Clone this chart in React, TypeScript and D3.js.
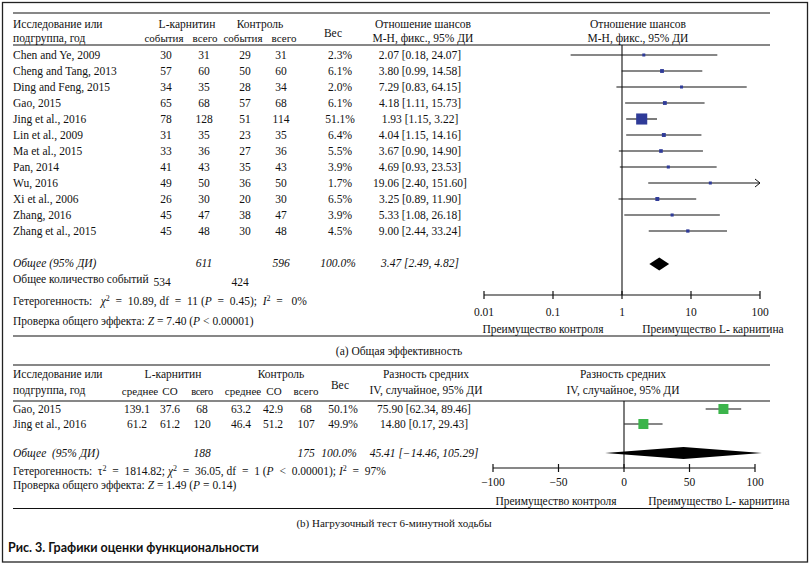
import React from "react";
import * as d3 from "d3";

// ---------- Data: (a) overall efficacy ----------
const studies = ["Chen and Ye, 2009", "Cheng and Tang, 2013", "Ding and Feng, 2015", "Gao, 2015", "Jing et al., 2016", "Lin et al., 2009", "Ma et al., 2015", "Pan, 2014", "Wu, 2016", "Xi et al., 2006", "Zhang, 2016", "Zhang et al., 2015"];
const lcEvents = [30, 57, 34, 65, 78, 31, 33, 41, 49, 26, 45, 45];
const lcTotal = [31, 60, 35, 68, 128, 35, 36, 43, 50, 30, 47, 48];
const ctEvents = [29, 50, 28, 57, 51, 23, 27, 35, 36, 20, 38, 30];
const ctTotal = [31, 60, 34, 68, 114, 35, 36, 43, 50, 30, 47, 48];
const weights = [2.3, 6.1, 2.0, 6.1, 51.1, 6.4, 5.5, 3.9, 1.7, 6.5, 3.9, 4.5];
const oddsRatio = [2.07, 3.80, 7.29, 4.18, 1.93, 4.04, 3.67, 4.69, 19.06, 3.25, 5.33, 9.00];
const orLow = [0.18, 0.99, 0.83, 1.11, 1.15, 1.15, 0.90, 0.93, 2.40, 0.89, 1.08, 2.44];
const orHigh = [24.07, 14.58, 64.15, 15.73, 3.22, 14.16, 14.90, 23.53, 151.60, 11.90, 26.18, 33.24];
const totalA = { lc: 611, ct: 596, weight: "100.0%", or: 3.47, lo: 2.49, hi: 4.82, lcEv: 534, ctEv: 424 };
const ticksA = [0.01, 0.1, 1, 10, 100];
const tickLabelsA = ["0.01", "0.1", "1", "10", "100"];

// ---------- Data: (b) 6-minute walk test ----------
const bStudies = ["Gao, 2015", "Jing et al., 2016"];
const bLcMean = [139.1, 61.2];
const bLcSd = [37.6, 61.2];
const bLcN = [68, 120];
const bCtMean = [63.2, 46.4];
const bCtSd = [42.9, 51.2];
const bCtN = [68, 107];
const bWeight = [50.1, 49.9];
const bMd = [75.90, 14.80];
const bLo = [62.34, 0.17];
const bHi = [89.46, 29.43];
const totalB = { lc: 188, ct: 175, weight: "100.0%", md: 45.41, lo: -14.46, hi: 105.29 };
const ticksB = [-100, -50, 0, 50, 100];
const tickLabelsB = ["\u2212100", "\u221250", "0", "50", "100"];

const SERIF = "'Liberation Serif', 'Times New Roman', serif";
const fmt = (v: number) => (v < 0 ? "\u2212" + Math.abs(v).toFixed(2) : v.toFixed(2));

export default function App() {
  const xA = d3.scaleLog().domain([0.01, 100]).range([484, 760]);
  const xB = d3.scaleLinear().domain([-100, 100]).range([493, 755]);
  const rowY = (i: number) => 55 + i * 16;
  const bRowY = (i: number) => 409 + i * 15;
  const sq = (w: number) => Math.max(3, 1.55 * Math.sqrt(w));
  const fs = 11.5;
  const T = (props: any) => <text fontFamily={SERIF} fontSize={fs} fill="#111" style={{ whiteSpace: "pre" }} {...props} />;

  return (
    <svg width={810} height={564} style={{ position: "absolute", left: 0, top: 0, background: "#fff" }}>
      <rect x={2.5} y={2.5} width={805} height={559.5} fill="#fff" stroke="#222" strokeWidth={1.3} />

      {/* ===== (a) ===== */}
      <line x1={13} x2={770} y1={13} y2={13} stroke="#111" strokeWidth={1.2} />
      <line x1={13} x2={770} y1={45} y2={45} stroke="#111" strokeWidth={1.2} />
      <T x={13} y={28}>Исследование или</T>
      <T x={13} y={42}>подгруппа, год</T>
      <T x={187} y={28} textAnchor="middle">L-карнитин</T>
      <T x={260} y={28} textAnchor="middle">Контроль</T>
      <T x={164} y={42} textAnchor="middle" fontSize={11}>события</T>
      <T x={205} y={42} textAnchor="middle" fontSize={11}>всего</T>
      <T x={243} y={42} textAnchor="middle" fontSize={11}>события</T>
      <T x={284} y={42} textAnchor="middle" fontSize={11}>всего</T>
      <T x={333} y={37} textAnchor="middle">Вес</T>
      <T x={423} y={28} textAnchor="middle">Отношение шансов</T>
      <T x={423} y={42} textAnchor="middle">М-Н, фикс., 95% ДИ</T>
      <T x={638} y={28} textAnchor="middle">Отношение шансов</T>
      <T x={638} y={42} textAnchor="middle">М-Н, фикс., 95% ДИ</T>

      {studies.map((s, i) => (
        <g key={s}>
          <T x={13} y={rowY(i) + 4}>{s}</T>
          <T x={166} y={rowY(i) + 4} textAnchor="middle">{lcEvents[i]}</T>
          <T x={204} y={rowY(i) + 4} textAnchor="middle">{lcTotal[i]}</T>
          <T x={245} y={rowY(i) + 4} textAnchor="middle">{ctEvents[i]}</T>
          <T x={281} y={rowY(i) + 4} textAnchor="middle">{ctTotal[i]}</T>
          <T x={340} y={rowY(i) + 4} textAnchor="middle">{weights[i].toFixed(1)}%</T>
          <T x={420} y={rowY(i) + 4} textAnchor="middle">{`${oddsRatio[i].toFixed(2)} [${orLow[i].toFixed(2)}, ${orHigh[i].toFixed(2)}]`}</T>
          <line x1={xA(Math.max(orLow[i], 0.01))} x2={xA(Math.min(orHigh[i], 100))} y1={rowY(i)} y2={rowY(i)} stroke="#111" strokeWidth={1.1} />
          {orHigh[i] > 100 && (
            <polyline points={`${xA(100) - 5},${rowY(i) - 4} ${xA(100)},${rowY(i)} ${xA(100) - 5},${rowY(i) + 4}`} fill="none" stroke="#111" strokeWidth={1} />
          )}
          <rect x={xA(oddsRatio[i]) - sq(weights[i]) / 2} y={rowY(i) - sq(weights[i]) / 2} width={sq(weights[i])} height={sq(weights[i])} fill="#2f3b98" />
        </g>
      ))}
      <line x1={xA(1)} x2={xA(1)} y1={45} y2={295} stroke="#111" strokeWidth={1.1} />

      <T x={13} y={267} fontStyle="italic">Общее (95% ДИ)</T>
      <T x={204} y={267} textAnchor="middle" fontStyle="italic">{totalA.lc}</T>
      <T x={281} y={267} textAnchor="middle" fontStyle="italic">{totalA.ct}</T>
      <T x={338} y={267} textAnchor="middle" fontStyle="italic">{totalA.weight}</T>
      <T x={420} y={267} textAnchor="middle" fontStyle="italic">{`${totalA.or.toFixed(2)} [${totalA.lo.toFixed(2)}, ${totalA.hi.toFixed(2)}]`}</T>
      <polygon points={`${xA(totalA.lo)},264 ${xA(totalA.or)},257.5 ${xA(totalA.hi)},264 ${xA(totalA.or)},270.5`} fill="#000" />

      <T x={13} y={283}>Общее количество событий</T>
      <T x={162} y={286} textAnchor="middle">{totalA.lcEv}</T>
      <T x={240} y={286} textAnchor="middle">{totalA.ctEv}</T>
      <T x={13} y={305}>
        <tspan>{"Гетерогенность:   "}</tspan>
        <tspan fontStyle="italic">χ</tspan>
        <tspan dy={-4} fontSize={8}>2</tspan>
        <tspan dy={4}>{"  =  10.89, df  =  11 ("}</tspan>
        <tspan fontStyle="italic">P</tspan>
        <tspan>{"  =  0.45);  "}</tspan>
        <tspan fontStyle="italic">I</tspan>
        <tspan dy={-4} fontSize={8}>2</tspan>
        <tspan dy={4}>{"  =   0%"}</tspan>
      </T>
      <T x={13} y={325}>
        <tspan>{"Проверка общего эффекта: "}</tspan>
        <tspan fontStyle="italic">Z</tspan>
        <tspan>{" = 7.40 ("}</tspan>
        <tspan fontStyle="italic">P</tspan>
        <tspan>{" < 0.00001)"}</tspan>
      </T>

      <line x1={xA(0.01)} x2={xA(100)} y1={295} y2={295} stroke="#111" strokeWidth={1.2} />
      {ticksA.map((t, i) => (
        <g key={t}>
          <line x1={xA(t)} x2={xA(t)} y1={291} y2={299} stroke="#111" strokeWidth={1.2} />
          <T x={xA(t)} y={316} textAnchor="middle">{tickLabelsA[i]}</T>
        </g>
      ))}
      <T x={543} y={333} textAnchor="middle">Преимущество контроля</T>
      <T x={713} y={333} textAnchor="middle">Преимущество L- карнитина</T>
      <line x1={13} x2={770} y1={336} y2={336} stroke="#111" strokeWidth={1.2} />
      <T x={399} y={355} textAnchor="middle">(a) Общая эффективность</T>
      <line x1={13} x2={770} y1={365} y2={365} stroke="#111" strokeWidth={1.2} />

      {/* ===== (b) ===== */}
      <T x={13} y={378}>Исследование или</T>
      <T x={13} y={394}>подгруппа, год</T>
      <T x={173} y={378} textAnchor="middle">L-карнитин</T>
      <T x={281} y={378} textAnchor="middle">Контроль</T>
      <T x={140} y={395} textAnchor="middle" fontSize={11}>среднее</T>
      <T x={170} y={395} textAnchor="middle" fontSize={11}>CO</T>
      <T x={202} y={395} textAnchor="middle" fontSize={10.5} letterSpacing={-0.4}>всего</T>
      <T x={243} y={395} textAnchor="middle" fontSize={11}>среднее</T>
      <T x={274} y={395} textAnchor="middle" fontSize={11}>CO</T>
      <T x={306} y={395} textAnchor="middle" fontSize={11}>всего</T>
      <T x={340} y={389} textAnchor="middle">Вес</T>
      <T x={426} y={378} textAnchor="middle">Разность средних</T>
      <T x={426} y={394} textAnchor="middle">IV, случайное, 95% ДИ</T>
      <T x={623} y={378} textAnchor="middle">Разность средних</T>
      <T x={623} y={394} textAnchor="middle">IV, случайное, 95% ДИ</T>
      <line x1={13} x2={770} y1={401} y2={401} stroke="#111" strokeWidth={1.2} />

      {bStudies.map((s, i) => (
        <g key={s}>
          <T x={13} y={bRowY(i) + 4}>{s}</T>
          <T x={137} y={bRowY(i) + 4} textAnchor="middle">{bLcMean[i].toFixed(1)}</T>
          <T x={170} y={bRowY(i) + 4} textAnchor="middle">{bLcSd[i].toFixed(1)}</T>
          <T x={202} y={bRowY(i) + 4} textAnchor="middle">{bLcN[i]}</T>
          <T x={241} y={bRowY(i) + 4} textAnchor="middle">{bCtMean[i].toFixed(1)}</T>
          <T x={273} y={bRowY(i) + 4} textAnchor="middle">{bCtSd[i].toFixed(1)}</T>
          <T x={306} y={bRowY(i) + 4} textAnchor="middle">{bCtN[i]}</T>
          <T x={343} y={bRowY(i) + 4} textAnchor="middle">{bWeight[i].toFixed(1)}%</T>
          <T x={424} y={bRowY(i) + 4} textAnchor="middle">{`${fmt(bMd[i])} [${fmt(bLo[i])}, ${fmt(bHi[i])}]`}</T>
          <line x1={xB(bLo[i])} x2={xB(bHi[i])} y1={bRowY(i)} y2={bRowY(i)} stroke="#111" strokeWidth={1.1} />
          <rect x={xB(bMd[i]) - 5} y={bRowY(i) - 5} width={10} height={10} fill="#3cb44b" />
        </g>
      ))}
      <line x1={xB(0)} x2={xB(0)} y1={401} y2={468} stroke="#111" strokeWidth={1.1} />

      <T x={13} y={457} fontStyle="italic">{"Общее  (95% ДИ)"}</T>
      <T x={202} y={457} textAnchor="middle" fontStyle="italic">{totalB.lc}</T>
      <T x={306} y={457} textAnchor="middle" fontStyle="italic">{totalB.ct}</T>
      <T x={339} y={457} textAnchor="middle" fontStyle="italic">{totalB.weight}</T>
      <T x={424} y={457} textAnchor="middle" fontStyle="italic">{`${fmt(totalB.md)} [${fmt(totalB.lo)}, ${fmt(totalB.hi)}]`}</T>
      <polygon points={`${xB(totalB.lo)},453 ${xB(totalB.md)},447 ${xB(totalB.hi)},453 ${xB(totalB.md)},459`} fill="#000" />

      <T x={13} y={475}>
        <tspan>{"Гетерогенность:  "}</tspan>
        <tspan>τ</tspan>
        <tspan dy={-4} fontSize={8}>2</tspan>
        <tspan dy={4}>{"  =  1814.82; "}</tspan>
        <tspan fontStyle="italic">χ</tspan>
        <tspan dy={-4} fontSize={8}>2</tspan>
        <tspan dy={4}>{"  =  36.05, df  =  1 ("}</tspan>
        <tspan fontStyle="italic">P</tspan>
        <tspan>{"  <  0.00001); "}</tspan>
        <tspan fontStyle="italic">I</tspan>
        <tspan dy={-4} fontSize={8}>2</tspan>
        <tspan dy={4}>{"  =  97%"}</tspan>
      </T>
      <T x={13} y={489}>
        <tspan>{"Проверка общего эффекта: "}</tspan>
        <tspan fontStyle="italic">Z</tspan>
        <tspan>{" = 1.49 ("}</tspan>
        <tspan fontStyle="italic">P</tspan>
        <tspan>{" = 0.14)"}</tspan>
      </T>

      <line x1={xB(-100)} x2={xB(100)} y1={468} y2={468} stroke="#111" strokeWidth={1.2} />
      {ticksB.map((t, i) => (
        <g key={t}>
          <line x1={xB(t)} x2={xB(t)} y1={464} y2={472} stroke="#111" strokeWidth={1.2} />
          <T x={xB(t)} y={486} textAnchor="middle">{tickLabelsB[i]}</T>
        </g>
      ))}
      <T x={556} y={505} textAnchor="middle">Преимущество контроля</T>
      <T x={719} y={505} textAnchor="middle">Преимущество L- карнитина</T>
      <line x1={13} x2={773} y1={508.5} y2={508.5} stroke="#111" strokeWidth={1.2} />
      <T x={394} y={527} textAnchor="middle" fontSize={11}>(b) Нагрузочный тест 6-минутной ходьбы</T>

      <text x={8} y={552} fontFamily="Lato, 'Open Sans', sans-serif" fontWeight="bold" fontSize={12.5} fill="#111">Рис. 3. Графики оценки функциональности</text>
    </svg>
  );
}
